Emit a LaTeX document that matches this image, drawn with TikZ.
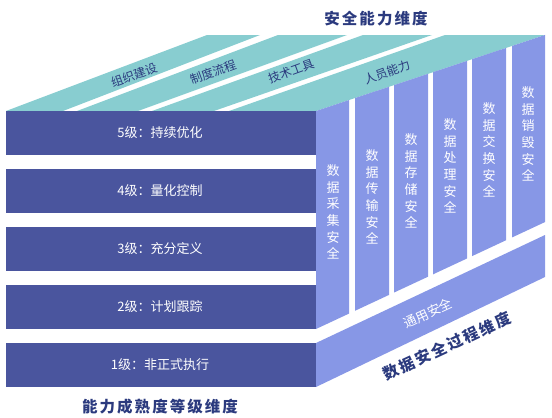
\documentclass[tikz,border=0pt]{standalone}
\usepackage{fontspec}
\setmainfont{Noto Sans CJK SC}
\newfontfamily\cjkwide[LetterSpace=13]{Noto Sans CJK SC}
\usepackage{xcolor}
\definecolor{cBar}{HTML}{4A559E}
\definecolor{cSide}{HTML}{8797E6}
\definecolor{cTop}{HTML}{88CDD0}
\definecolor{cText}{HTML}{2B3A7E}
\usetikzlibrary{calc}
\tikzset{
  face-bar/.style={fill=cBar},
  face-side/.style={fill=cSide},
  face-top/.style={fill=cTop},
  label-bar/.style={text=white,inner sep=0pt,font=\fontsize{13}{13}\selectfont},
  label-col/.style={text=white,inner sep=0pt,align=center,font=\fontsize{13}{16.7}\selectfont},
  label-top/.style={text=cText,inner sep=0pt,rotate=20,font=\fontsize{12}{12}\selectfont},
  label-dim/.style={text=cText,inner sep=0pt,font=\cjkwide\bfseries\fontsize{15.5}{15.5}\selectfont},
}

\begin{document}
\begin{tikzpicture}[x=1pt,y=-1pt]
  \useasboundingbox (0,0) rectangle (552,418);
  % 顶面：四条能力维度
  \fill[face-top] (6,111)   -- (63,111)  -- (260,35) -- (207,35) -- cycle;
  \fill[face-top] (77,111)  -- (138,111) -- (347,35) -- (278,35) -- cycle;
  \fill[face-top] (152,111) -- (214,111) -- (432,35) -- (363,35) -- cycle;
  \fill[face-top] (229,111) -- (316,111) -- (545,35) -- (445,35) -- cycle;
  % 正面：五个成熟度等级
  \foreach \yt/\yb in {111/155,169/213,227/271,285/329,343/387}
    \fill[face-bar] (6,\yt) rectangle (316,\yb);
  % 侧面：六个生命周期阶段 + 通用安全
  \foreach \xl/\xr in {316/349,355/389,394/428,433/467,472/506,512/545}
    \fill[face-side] (\xl,{111-0.332*(\xl-316)}) -- (\xr,{111-0.332*(\xr-316)})
      -- (\xr,{329-0.467*(\xr-316)}) -- (\xl,{329-0.467*(\xl-316)}) -- cycle;
  \fill[face-side] (316,343) -- (545,235) -- (545,277) -- (316,387) -- cycle;

  \node[label-dim] (capa) at (376,19) {安全能力维度};
  \node[label-top] (org)  at (134,75) {组织建设};
  \node[label-top] (flow) at (213,72) {制度流程};
  \node[label-top] (tool) at (291,71) {技术工具};
  \node[label-top] (staff) at (387,72) {人员能力};

  \node[label-bar] (lv5) at (160,133) {5级：持续优化};
  \node[label-bar] (lv4) at (160,191) {4级：量化控制};
  \node[label-bar] (lv3) at (160,249) {3级：充分定义};
  \node[label-bar] (lv2) at (160,307) {2级：计划跟踪};
  \node[label-bar] (lv1) at (160,365) {1级：非正式执行};
  \node[label-dim] (matur) at (160,407) {能力成熟度等级维度};

  \node[label-col] (collect)  at (333,212) {数\\据\\采\\集\\安\\全};
  \node[label-col] (transfer) at (372,197) {数\\据\\传\\输\\安\\全};
  \node[label-col] (store)    at (411,181) {数\\据\\存\\储\\安\\全};
  \node[label-col] (process)  at (450,166) {数\\据\\处\\理\\安\\全};
  \node[label-col] (exchange) at (489,150) {数\\据\\交\\换\\安\\全};
  \node[label-col] (destroy)  at (528,134) {数\\据\\销\\毁\\安\\全};
  \node[label-bar,rotate=25] (common) at (428,313) {通用安全};
  \node[label-dim,rotate=25] (procdim) at (447,346) {数据安全过程维度};
\end{tikzpicture}
\end{document}
